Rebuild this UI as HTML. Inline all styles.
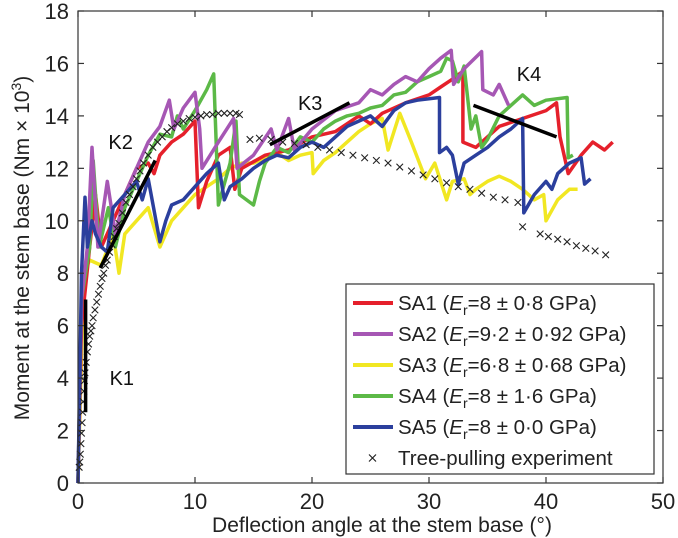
<!DOCTYPE html>
<html><head><meta charset="utf-8"><style>
html,body{margin:0;padding:0;background:#fff;}
svg{display:block;font-family:"Liberation Sans",sans-serif;}
</style></head><body>
<svg id="chart" width="678" height="538" viewBox="0 0 678 538" xmlns="http://www.w3.org/2000/svg">
<g id="series"></g>
<g id="axes"></g>
<g id="legend"></g>
</svg>
<script>
const xTicks=[0,10,20,30,40,50];
const yTicks=[0,2,4,6,8,10,12,14,16,18];
const sa1=[[0,0],[0.3,6],[1,9],[1.5,11],[2,9],[3,10],[4,11],[5,12],[6,12.2],[6.5,11.8],[7,12.5],[8,13],[9,13.3],[10,13.8],[10.3,10.5],[11,11.5],[12,12.5],[13,12.8],[13.4,11.2],[14,12],[16,12.5],[18,12.7],[20,13.2],[22,13.4],[24,14],[25,13.7],[26,14.1],[28,14.5],[30,14.8],[31,15.1],[32,15.4],[32.9,15.7],[32.9,13.0],[34,12.8],[35,13.2],[36,13.6],[38,13.9],[40,14.2],[40.9,14.5],[41.2,13.2],[41.9,11.8],[43,12.5],[44,13.0],[45,12.7],[45.7,13.0]];
const sa2=[[0,0],[0.3,7],[0.8,9],[1.2,12.8],[1.7,9],[2.5,11.5],[3.2,9.5],[4,11],[5,12],[6,13],[7,13.6],[7.8,14.6],[8.2,13.5],[9,14.3],[10,14.9],[10.4,13.5],[10.6,12],[12,13],[13.3,13.9],[13.6,12],[15,12.5],[16.5,13.5],[17,12.7],[18,13.9],[18.5,12.7],[20,13.5],[22,14.2],[24,14.5],[25,15],[26,14.8],[27,15.2],[28,15.5],[29,15.3],[30,15.8],[31,16.2],[31.9,16.5],[32.1,15.2],[33,15.8],[34.5,16.45],[34.6,15],[35.5,14.8],[36,15.2],[36.8,14.4]];
const sa3=[[0,0],[0.5,8],[1,8.5],[2,8.3],[3,9.5],[3.5,8],[4,9.5],[5,10],[6,10.5],[7,9.0],[8,10],[9,10.5],[10,11],[11,11.3],[12,11.6],[13,12],[14,12.2],[15,12.2],[16,12.4],[17,12.6],[18,12.3],[19,12.5],[20,12.6],[20.1,11.8],[21,12.3],[22,12.6],[23,13],[24,13.4],[25,13.7],[26,13.9],[26.5,12.7],[27.5,14.1],[28.5,13],[29.7,11.6],[30.5,12.2],[31.5,10.8],[32,11.5],[33,11.6],[33.5,11],[34,11.2],[35,11.5],[36,11.7],[37,11.5],[38,11.2],[39,10.8],[39.8,11],[40,10.0],[41,10.8],[42,11.2],[42.7,11.2]];
const sa4=[[0,0],[0.3,7],[1,9],[1.3,12.3],[1.8,9],[2.6,10.5],[3.2,9],[4,10.5],[5,11.5],[6,12.5],[7,13.3],[8,13.2],[8.5,14],[9,13.5],[10,14.2],[11,15],[11.6,15.6],[12.0,10.6],[13,12.2],[13.5,13.8],[13.8,11],[15,10.6],[15.5,11.5],[16,12.2],[17,12.8],[18,12.6],[19,13.2],[20,13],[21,13.5],[22,13.8],[23,14],[24,14.1],[25,14.3],[26,14.4],[27,14.8],[28,14.9],[29,15.3],[30,15.5],[31,15.7],[31.5,16.2],[32,16.1],[32.5,15.3],[33,15.9],[33.6,13.5],[34,14.0],[34.5,12.8],[35,13.1],[36,14.0],[37,14.4],[38,14.8],[39,14.4],[40,14.6],[41.8,14.7],[41.9,12.4],[42.3,12.5]];
const sa5=[[0,0],[0.3,8],[0.6,10.9],[0.8,9],[1.2,10],[1.5,9.5],[2,9],[2.5,8.8],[3,10.5],[4,11],[5,11.5],[5.5,10.8],[6,11.6],[7,9.2],[7.5,10],[8,10.6],[9,10.8],[10,11.3],[11,11.8],[12,12.2],[12.5,10.8],[13,11.3],[14,11.6],[15,12],[16,12.3],[17,12.5],[18,12.4],[19,12.8],[20,13],[21,12.8],[22,13.2],[23,13.6],[24,13.8],[25,14],[26,13.6],[27,14.2],[28,14.5],[29,14.6],[30.9,14.7],[30.9,12.6],[31.5,12.8],[32,12.5],[32.5,11.4],[33,12.2],[34,12.5],[35,12.8],[36,13.2],[37,13.5],[38,13.9],[38.1,10.3],[39,11],[40,11.5],[40.5,11.2],[41,11.8],[42,12.2],[43,12.4],[43.3,11.4],[43.8,11.6]];
const treeX=[0.1,0.15,0.2,0.25,0.3,0.35,0.4,0.45,0.5,0.55,0.6,0.7,0.8,0.9,1.0,1.1,1.2,1.3,1.45,1.6,1.75,1.9,2.05,2.2,2.35,2.5,2.7,2.9,3.1,3.3,3.5,3.8,4.1,4.4,4.7,5.0,5.3,5.6,6.0,6.4,6.8,7.2,7.6,8.0,8.5,9.0,9.5,10,10.5,11,11.5,12,12.5,13,13.5,13.8,14.7,15.5,16.5,17.5,18.5,19.5,20.5,21.5,22.5,23.5,24.5,25.5,26.5,27.5,28.5,29.5,30.5,31.5,32.5,33.5,34.5,35.5,36.5,37.6,38,39.5,40.2,41,41.8,42.6,43.4,44.2,45.1];
const treeY=[0.6,0.8,1.1,1.5,1.9,2.3,2.7,3.1,3.5,3.9,4.2,4.6,5.0,5.3,5.6,5.8,6.0,6.3,6.6,6.9,7.2,7.5,7.8,8.0,8.3,8.5,8.8,9.1,9.4,9.7,9.9,10.3,10.7,11.0,11.3,11.6,11.9,12.2,12.5,12.8,13.0,13.2,13.4,13.55,13.7,13.8,13.9,13.95,14.0,14.05,14.05,14.1,14.1,14.1,14.1,14.05,13.1,13.15,13.1,13.0,12.95,12.9,12.8,12.7,12.6,12.5,12.4,12.3,12.2,12.05,11.9,11.75,11.6,11.45,11.3,11.2,11.05,10.9,10.8,10.7,9.77,9.5,9.4,9.3,9.2,9.05,8.95,8.85,8.7];
const kLines=[{name:'K1',pts:[[0.65,2.7],[0.65,7.0]]},{name:'K2',pts:[[1.9,8.2],[6.6,12.3]]},{name:'K3',pts:[[16.4,12.9],[23.2,14.5]]},{name:'K4',pts:[[33.8,14.4],[40.9,13.2]]}];
const kLabels=[{t:'K1',x:2.7,y:4.0},{t:'K2',x:2.6,y:13.0},{t:'K3',x:18.8,y:14.5},{t:'K4',x:37.5,y:15.6}];
const NS='http://www.w3.org/2000/svg';
const X0=78,X1=663,Y0=483,Y1=11;
const sx=v=>X0+(v-0)/50*(X1-X0);
const sy=v=>Y0-(v-0)/18*(Y0-Y1);
function mk(tag,attrs,parent){const e=document.createElementNS(NS,tag);for(const k in attrs)e.setAttribute(k,attrs[k]);parent.appendChild(e);return e;}
const gS=document.getElementById('series'),gA=document.getElementById('axes'),gL=document.getElementById('legend');
const series=[{n:'sa1',d:sa1,c:'#e5202b'},{n:'sa2',d:sa2,c:'#a657b4'},{n:'sa3',d:sa3,c:'#f1e722'},{n:'sa4',d:sa4,c:'#5cb947'},{n:'sa5',d:sa5,c:'#2b3f9d'}];
const drawOrder=[2,0,3,1,4];
drawOrder.forEach(i=>{const s=series[i];
 const p=mk('polyline',{points:s.d.map(q=>sx(q[0]).toFixed(1)+','+sy(q[1]).toFixed(1)).join(' '),fill:'none',stroke:s.c,'stroke-width':3.5,'stroke-linejoin':'round'},gS);
 
 
});
treeX.forEach((x,i)=>{const cx=sx(x),cy=sy(treeY[i]),r=3.3;
 const m=mk('path',{d:`M${cx-r},${cy-r}L${cx+r},${cy+r}M${cx-r},${cy+r}L${cx+r},${cy-r}`,stroke:'#222','stroke-width':1.1,fill:'none'},gS);
 
 
});
kLines.forEach(k=>{const l=mk('line',{x1:sx(k.pts[0][0]),y1:sy(k.pts[0][1]),x2:sx(k.pts[1][0]),y2:sy(k.pts[1][1]),stroke:'#000','stroke-width':3.5},gS);
 
 
});
kLabels.forEach(k=>{const t=mk('text',{x:sx(k.x),y:sy(k.y)+7,'font-size':20,fill:'#111'},gS);t.textContent=k.t;
 
 
});
const box=mk('rect',{x:X0,y:Y1,width:X1-X0,height:Y0-Y1,fill:'none',stroke:'#333','stroke-width':1.2},gA);


xTicks.forEach(v=>{const x=sx(v);
 mk('line',{x1:x,y1:Y0,x2:x,y2:Y0-6,stroke:'#333','stroke-width':1.2},gA);
 mk('line',{x1:x,y1:Y1,x2:x,y2:Y1+6,stroke:'#333','stroke-width':1.2},gA);
 const t=mk('text',{x:x,y:509,'font-size':22,'text-anchor':'middle',fill:'#222'},gA);t.textContent=v;
 
 
});
yTicks.forEach(v=>{const y=sy(v);
 mk('line',{x1:X0,y1:y,x2:X0+6,y2:y,stroke:'#333','stroke-width':1.2},gA);
 mk('line',{x1:X1,y1:y,x2:X1-6,y2:y,stroke:'#333','stroke-width':1.2},gA);
 const t=mk('text',{x:69,y:y+8,'font-size':22,'text-anchor':'end',fill:'#222'},gA);t.textContent=v;
 
 
});
const xt=mk('text',{x:382,y:532,'font-size':21,'text-anchor':'middle',fill:'#222'},gA);xt.textContent='Deflection angle at the stem base (°)';


const yt=mk('text',{x:0,y:0,'font-size':21,'text-anchor':'middle',fill:'#222',transform:'translate(29,248) rotate(-90)'},gA);
yt.innerHTML='Moment at the stem base (Nm × 10<tspan dy="-8" font-size="14">3</tspan><tspan dy="8">)</tspan>';


const lb=mk('rect',{x:346,y:284,width:308,height:190,fill:'#fff',stroke:'#333','stroke-width':1.2},gL);


const legTxt=[['SA1 (','=8 ± 0·8 GPa)'],['SA2 (','=9·2 ± 0·92 GPa)'],['SA3 (','=6·8 ± 0·68 GPa)'],['SA4 (','=8 ± 1·6 GPa)'],['SA5 (','=8 ± 0·0 GPa)']];
legTxt.forEach((p,i)=>{const y=303+i*31;
 const l=mk('line',{x1:353,y1:y,x2:393,y2:y,stroke:series[i].c,'stroke-width':4},gL);
 
 
 const t=mk('text',{x:398,y:y+7,'font-size':20.5,fill:'#222'},gL);
 t.innerHTML=p[0]+'<tspan font-style="italic">E</tspan><tspan dy="5" font-size="14">r</tspan><tspan dy="-5">'+p[1]+'</tspan>';
 
 
});
const ly=458;
const lm=mk('path',{d:`M369,${ly-3.5}L376,${ly+3.5}M369,${ly+3.5}L376,${ly-3.5}`,stroke:'#222','stroke-width':1.2},gL);


const lt=mk('text',{x:398,y:ly+7,'font-size':20.5,fill:'#222'},gL);lt.textContent='Tree-pulling experiment';


</script>
</body></html>
